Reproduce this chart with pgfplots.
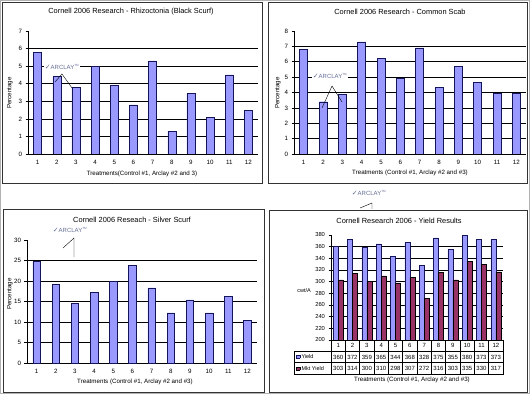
\documentclass[border=0pt]{standalone}
\usepackage{pgfplots}
\pgfplotsset{compat=1.18}
\usepackage{pgfplotstable}
\usepackage{fontspec}
\setmainfont{Liberation Sans}
\newfontfamily\dejavu{DejaVu Sans}
\definecolor{barblue}{RGB}{153,153,255}
\definecolor{barmaroon}{RGB}{153,51,102}
\definecolor{bardark}{RGB}{20,20,90}
\definecolor{logogray}{RGB}{100,110,150}

\pgfplotstableread{
t v
1 5.8
2 4.4
3 3.8
4 5.0
5 3.9
6 2.8
7 5.3
8 1.3
9 3.45
10 2.1
11 4.5
12 2.5
}\rhizo

\pgfplotstableread{
t v
1 6.8
2 3.4
3 3.9
4 7.3
5 6.2
6 4.9
7 6.9
8 4.35
9 5.7
10 4.65
11 3.95
12 3.95
}\scab

\pgfplotstableread{
t v
1 24.8
2 19.2
3 14.6
4 17.3
5 20.0
6 23.9
7 18.3
8 12.2
9 15.4
10 12.2
11 16.3
12 10.4
}\silver

\pgfplotstableread{
t yield mkt
1 360 303
2 372 314
3 359 300
4 365 310
5 344 298
6 368 307
7 328 272
8 375 316
9 355 303
10 380 335
11 373 330
12 373 317
}\yieldtab

\pgfplotsset{
  panel/.style={scale only axis, anchor=south west,
    xmin=0.5, xmax=12.5, xtick={1,...,12}, ymin=0,
    axis x line*=bottom, axis y line*=left,
    axis line style={black, line width=0.6pt},
    xtick style={draw=none}, ytick style={black, line width=0.5pt},
    major tick length=2.5pt, tick align=outside,
    ymajorgrids, grid style={black, line width=0.7pt},
    extra y tick style={grid=none},
    tick label style={font=\fontsize{6.2}{7}\selectfont},
    /pgf/number format/assume math mode=true,
    ybar, bar width=8pt},
  barstyle/.style={fill=barblue, draw=bardark, line width=0.4pt},
}
\tikzset{
  logo/.style={fill=white, inner sep=1pt, text=logogray, font=\fontsize{6}{7}\selectfont},
  ttl/.style={font=\fontsize{7.4}{8}\selectfont},
  xlab/.style={font=\fontsize{6.2}{7}\selectfont},
}
\newcommand{\arclay}{{\dejavu\fontsize{7}{7}\selectfont ✓}ARCLAY\textsuperscript{\fontsize{3}{3}\selectfont TM}}
\newcommand{\keybox}[2]{{\setlength{\fboxsep}{0pt}\setlength{\fboxrule}{0.4pt}\fcolorbox{#1}{#2}{\rule{0pt}{3pt}\hspace{3pt}}}}

\begin{document}
\begin{tikzpicture}[x=1pt,y=1pt]
\path[use as bounding box] (0,0) rectangle (530,394);
\draw[gray!60, line width=0.5pt] (0.5,0.5) rectangle (529.5,393.5);
% frames
\draw[black!80, line width=0.6pt] (2,211) rectangle (262,392);
\draw[black!80, line width=0.6pt] (268,211) rectangle (527,392);
\draw[black!80, line width=0.6pt] (3,2) rectangle (264,185);
\draw[black!80, line width=0.6pt] (269,2) rectangle (527,184);

% ---------- Panel 1
\begin{axis}[panel, at={(28pt,240pt)}, width=230pt, height=123pt,
  ymax=7, ytick={0,...,6}, extra y ticks={7}]
\addplot[barstyle] table[x=t,y=v]{\rhizo};
\end{axis}
\node[ttl] at (131,382) {Cornell 2006 Research -  Rhizoctonia (Black Scurf)};
\node[xlab] at (142,220) {Treatments(Control \#1, Arclay \#2 and 3)};
\node[xlab, rotate=90] at (10,301) {Percentage};

% ---------- Panel 2
\begin{axis}[panel, at={(294pt,240pt)}, width=232pt, height=123pt,
  ymax=8, ytick={0,...,7}, extra y ticks={8}]
\addplot[barstyle] table[x=t,y=v]{\scab};
\end{axis}
\node[ttl] at (400,382.5) {Cornell 2006  Research - Common Scab};
\node[xlab] at (410,221) {Treatments (Control \#1, Arclay \#2 and \#3)};
\node[xlab, rotate=90] at (278,301) {Percentage};

% ---------- Panel 3
\begin{axis}[panel, at={(27pt,31pt)}, width=230pt, height=123pt,
  ymax=30, ytick={0,5,...,25}, extra y ticks={30}, bar width=7.5pt]
\addplot[barstyle] table[x=t,y=v]{\silver};
\end{axis}
\node[ttl] at (132,174) {Cornell 2006 Reseach - Silver Scurf};
\node[xlab] at (135,12) {Treatments (Control \#1, Arclay \#2 and \#3)};
\node[xlab, rotate=90] at (10,100) {Percentage};

% ---------- Panel 4
\begin{axis}[panel, at={(331pt,54pt)}, width=172pt, height=105pt,
  ymin=200, ymax=380, ytick={200,220,...,360}, extra y ticks={380},
  ybar=0pt, bar width=5pt, xticklabels={},
  tick label style={font=\fontsize{5.8}{7}\selectfont}]
\addplot[fill=barblue, draw=bardark, line width=0.4pt] table[x=t,y=yield]{\yieldtab};
\addplot[fill=barmaroon, draw=black, line width=0.4pt] table[x=t,y=mkt]{\yieldtab};
\end{axis}
\begin{axis}[scale only axis, anchor=south west, at={(331pt,20pt)}, width=172pt, height=34pt,
  xmin=0.5, xmax=12.5, ymin=0, ymax=3,
  xtick={0.5,1.5,...,12.5}, ytick={1,2}, xticklabels={}, yticklabels={},
  xmajorgrids, ymajorgrids, grid style={black, line width=0.5pt},
  tick style={draw=none}, axis line style={black, line width=0.5pt}, clip=false,
  /pgf/number format/assume math mode=true,
  nodes near coords style={anchor=center, inner sep=0pt, font=\fontsize{6}{7}\selectfont}]
\addplot[draw=none, mark=none, nodes near coords, point meta=explicit] table[x=t, y expr=2.5, meta=t]{\yieldtab};
\addplot[draw=none, mark=none, nodes near coords, point meta=explicit] table[x=t, y expr=1.5, meta=yield]{\yieldtab};
\addplot[draw=none, mark=none, nodes near coords, point meta=explicit] table[x=t, y expr=0.5, meta=mkt]{\yieldtab};
\end{axis}
\draw[black, line width=0.5pt] (294,20) rectangle (331,43);
\draw[black, line width=0.5pt] (294,31.5) -- (331,31.5);
\node[anchor=west, inner sep=0pt, font=\fontsize{5.5}{6}\selectfont] at (296,37.5) {\keybox{bardark}{barblue}\hspace{1.5pt}Yield};
\node[anchor=west, inner sep=0pt, font=\fontsize{5.5}{6}\selectfont] at (296,25.5) {\keybox{black}{barmaroon}\hspace{1.5pt}Mkt Yield};
\node[ttl] at (399,173) {Cornell Research 2006 - Yield Results};
\node[xlab] at (412,14) {Treatments (Control \#1, Arclay \#2 and \#3)};
\node[font=\fontsize{5.5}{6}\selectfont] at (304,103) {cwt/A};

% ---------- logos
\draw[black, line width=0.4pt] (55,312) -- (62,320) -- (72,306);
\node[logo] at (62,327) {\arclay};
\draw[black, line width=0.4pt] (322,286) -- (332,308) -- (342,292);
\node[logo] at (330,318) {\arclay};
\draw[black, line width=0.4pt] (63,146) -- (74,156) -- (74,137);
\node[logo] at (70,164) {\arclay};
\draw[black, line width=0.4pt] (360,186) -- (372,191) -- (372,185);
\node[logo] at (369,201) {\arclay};
\end{tikzpicture}
\end{document}
